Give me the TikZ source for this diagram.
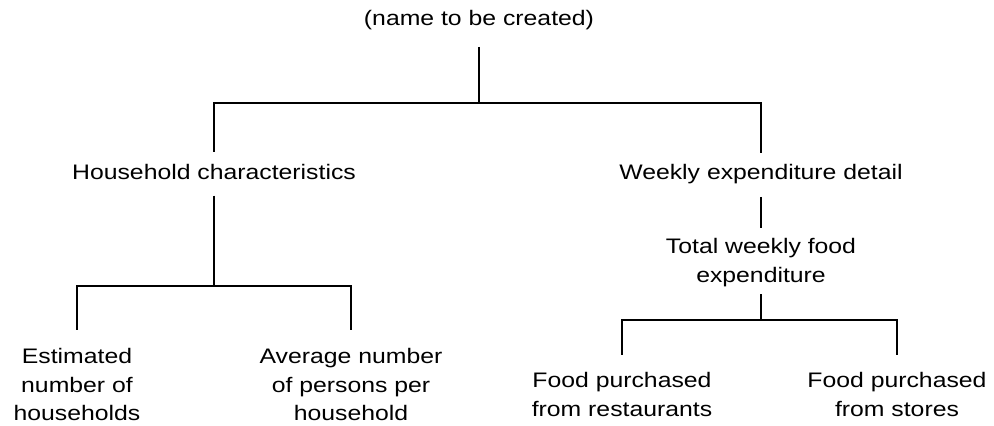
\documentclass[tikz,border=0pt]{standalone}
\usepackage{fontspec}
\setmainfont{Liberation Sans}[FakeStretch=1.18]
\begin{document}
\begin{tikzpicture}
	[x=1pt,y=-1pt,line width=1.3pt,
	every node/.style={inner sep=0pt,anchor=north,align=center,font=\fontsize{21}{28.5}\selectfont}]
	\useasboundingbox (0,0) rectangle (994,426);
	% the names
	\node (root) at (479,10) {(name to be created)};
	\node (house) at (214,164) {Household characteristics};
	\node (week) at (761,164) {Weekly expenditure detail};
	\node (food) at (761,238) {Total weekly food\\expenditure};
	\node (est) at (77,348) {Estimated\\number of\\households};
	\node (avg) at (351,348) {Average number\\of persons per\\household};
	\node (rest) at (622,372) {Food purchased\\from restaurants};
	\node (store) at (897,372) {Food purchased\\from stores};
	% where the lines split
	\coordinate (j1) at (479,103);
	\coordinate (j2) at (214,286);
	\coordinate (j3) at (761,320);
	% the lines
	\draw[shorten <=16pt] (root) -- (j1);
	\draw[shorten >=12pt] (j1) -| (house);
	\draw[shorten >=11pt] (j1) -| (week);
	\draw[shorten <=15pt] (house) -- (j2);
	\draw[shorten >=18pt] (j2) -| (est);
	\draw[shorten >=18pt] (j2) -| (avg);
	\draw[shorten <=12pt,shorten >=10pt] (week) -- (food);
	\draw[shorten <=7pt] (food) -- (j3);
	\draw[shorten >=17pt] (j3) -| (rest);
	\draw[shorten >=17pt] (j3) -| (store);
\end{tikzpicture}
\end{document}
